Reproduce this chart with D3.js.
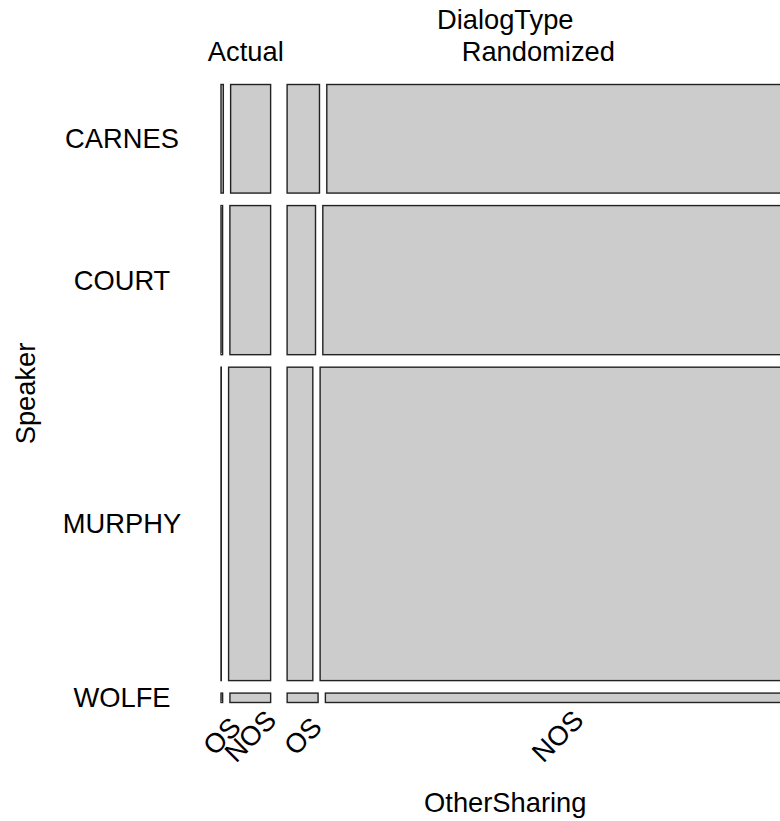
<!DOCTYPE html>
<html>
<head>
<meta charset="utf-8">
<script src="https://cdn.jsdelivr.net/npm/d3@7"></script>
<style>
  html, body { margin: 0; padding: 0; background: #fff; overflow: hidden; }
  svg { display: block; }
  text { font-family: "Liberation Sans", Arial, sans-serif; fill: #000; }
</style>
</head>
<body>
<svg id="chart" width="780" height="821"></svg>
<script>
// Mosaic of Speaker x DialogType x OtherSharing (counts)
const speakers = ["CARNES", "COURT", "MURPHY", "WOLFE"];
const dialogTypes = ["Actual", "Randomized"];
const otherSharing = ["OS", "NOS"];

// counts per speaker, in the order of `speakers`
const actualOS      = [33, 31, 12, 2];
const actualNOS     = [567, 793, 1720, 50];
const randomizedOS  = [459, 553, 1052, 38];
const randomizedNOS = [6561, 9088, 19212, 570];

const counts = {
  Actual:     { OS: actualOS,     NOS: actualNOS },
  Randomized: { OS: randomizedOS, NOS: randomizedNOS }
};

// plot frame and spacing between tiles at each split level
const frame = { left: 221, right: 789.5, top: 84.5, bottom: 702.5 };
const gapSpeaker = 12.5, gapDialog = 16.5, gapSharing = 7.3;

const svg = d3.select("#chart");
const fontSize = 27.3;

const rowTotals = speakers.map((s, i) =>
  d3.sum(dialogTypes, d => d3.sum(otherSharing, o => counts[d][o][i])));
const grand = d3.sum(rowTotals);

// vertical split by Speaker
const tileH = (frame.bottom - frame.top) - gapSpeaker * (speakers.length - 1);
const yScale = d3.scaleLinear().domain([0, grand]).range([0, tileH]);

const rows = [];
let cum = 0;
speakers.forEach((s, i) => {
  const y0 = frame.top + yScale(cum) + i * gapSpeaker;
  const h = yScale(rowTotals[i]);
  rows.push({ speaker: s, y: y0, h: h, i: i });
  cum += rowTotals[i];
});

// horizontal split: DialogType, then OtherSharing, within each row
const tileW = (frame.right - frame.left) - gapDialog * (dialogTypes.length - 1)
  - gapSharing * (otherSharing.length - 1) * dialogTypes.length;

const tiles = [];
rows.forEach(r => {
  const xScale = d3.scaleLinear().domain([0, rowTotals[r.i]]).range([0, tileW]);
  let x = frame.left;
  dialogTypes.forEach((d, di) => {
    otherSharing.forEach((o, oi) => {
      const w = xScale(counts[d][o][r.i]);
      tiles.push({ speaker: r.speaker, dialog: d, sharing: o, x: x, w: w, y: r.y, h: r.h, row: r.i });
      x += w;
      if (oi < otherSharing.length - 1) x += gapSharing;
    });
    if (di < dialogTypes.length - 1) x += gapDialog;
  });
});

svg.append("g")
  .selectAll("rect")
  .data(tiles)
  .join("rect")
  .attr("x", d => d.x)
  .attr("y", d => d.y)
  .attr("width", d => d.w)
  .attr("height", d => d.h)
  .attr("fill", "#cccccc")
  .attr("stroke", "#222")
  .attr("stroke-width", 1.4);

// Speaker labels on the left
const labelX = 122;
svg.append("g")
  .selectAll("text")
  .data(rows)
  .join("text")
  .attr("x", labelX)
  .attr("y", d => d.y + d.h / 2)
  .attr("text-anchor", "middle")
  .attr("dominant-baseline", "central")
  .attr("font-size", fontSize)
  .text(d => d.speaker);

svg.append("text")
  .attr("transform", `translate(25,${(frame.top + frame.bottom) / 2}) rotate(-90)`)
  .attr("text-anchor", "middle")
  .attr("dominant-baseline", "central")
  .attr("font-size", fontSize)
  .text("Speaker");

// DialogType labels on top, centred over each group (from the first row)
const firstRow = tiles.filter(t => t.row === 0);
const groups = dialogTypes.map(d => {
  const ts = firstRow.filter(t => t.dialog === d);
  const x0 = d3.min(ts, t => t.x), x1 = d3.max(ts, t => t.x + t.w);
  return { dialog: d, cx: (x0 + x1) / 2 };
});
svg.append("g")
  .selectAll("text")
  .data(groups)
  .join("text")
  .attr("x", d => d.cx)
  .attr("y", 61)
  .attr("text-anchor", "middle")
  .attr("font-size", fontSize)
  .text(d => d.dialog);

svg.append("text")
  .attr("x", (frame.left + frame.right) / 2)
  .attr("y", 29)
  .attr("text-anchor", "middle")
  .attr("font-size", fontSize)
  .text("DialogType");

// OtherSharing labels under the bottom row, rotated
const lastRow = tiles.filter(t => t.row === speakers.length - 1);
svg.append("g")
  .selectAll("text")
  .data(lastRow)
  .join("text")
  .attr("transform", d => `translate(${d.x + d.w / 2},736) rotate(-45)`)
  .attr("text-anchor", "middle")
  .attr("dominant-baseline", "central")
  .attr("font-size", fontSize)
  .text(d => d.sharing);

svg.append("text")
  .attr("x", (frame.left + frame.right) / 2)
  .attr("y", 812)
  .attr("text-anchor", "middle")
  .attr("font-size", fontSize)
  .text("OtherSharing");
</script>
</body>
</html>
